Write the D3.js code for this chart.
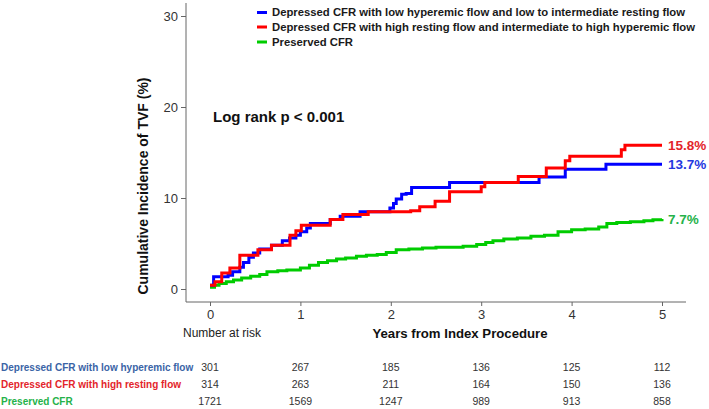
<!DOCTYPE html>
<html><head><meta charset="utf-8">
<script src="https://cdn.jsdelivr.net/npm/d3@7"></script>
<style>body{margin:0;background:#fff}svg{display:block;font-family:"Liberation Sans",Arial,sans-serif}</style>
</head><body><svg id="c" width="709" height="409"></svg>
<script>
const seriesNames = ["Depressed CFR with low hyperemic flow and low to intermediate resting flow",
  "Depressed CFR with high resting flow and intermediate to high hyperemic flow",
  "Preserved CFR"];
const tableNames = ["Depressed CFR with low hyperemic flow","Depressed CFR with high resting flow","Preserved CFR"];
const lineColors = ["#0000ff","#ff0000","#00cc00"];
const labelColors = ["#3a64a6","#e3242b","#25b24a"];
const endColors = ["#2438e0","#e3242b","#25b24a"];
const endLabels = ["13.7%","15.8%","7.7%"];

const blueT = [0,0.04,0.2,0.25,0.33,0.37,0.43,0.48,0.55,0.68,0.8,0.88,0.95,1.0,1.07,1.11,1.33,1.44,1.66,1.99,2.03,2.06,2.12,2.17,2.23,2.65,3.64,3.93,4.38,5.0];
const blueV = [0.4,1.35,1.5,1.9,2.4,2.9,3.5,3.95,4.4,4.8,5.3,5.6,5.9,6.3,6.7,7.2,7.65,8.0,8.5,8.9,9.4,9.9,10.4,10.5,11.15,11.7,12.3,13.15,13.7,13.7];
const redT = [0,0.055,0.13,0.22,0.33,0.53,0.68,0.885,0.95,1.01,1.33,1.47,1.75,2.22,2.32,2.49,2.65,3.0,3.04,3.41,3.72,3.93,3.98,4.55,4.59,5.0];
const redV = [0.4,0.8,1.75,2.3,3.7,4.3,4.8,5.9,6.4,7.0,7.65,8.2,8.5,8.6,9.05,9.65,10.7,11.25,11.7,12.35,13.3,14.1,14.6,15.3,15.8,15.8];
const greenT = [0,0.05,0.1,0.18,0.26,0.35,0.45,0.55,0.63,0.75,0.85,1.0,1.1,1.2,1.3,1.4,1.5,1.62,1.73,1.85,1.95,2.06,2.2,2.35,2.5,2.65,2.8,2.95,3.05,3.13,3.25,3.4,3.55,3.7,3.85,4.0,4.15,4.3,4.39,4.5,4.65,4.8,4.9,5.0];
const greenV = [0.2,0.4,0.6,0.8,1.0,1.2,1.4,1.6,1.9,2.0,2.1,2.3,2.6,2.9,3.1,3.3,3.4,3.6,3.7,3.8,4.0,4.3,4.4,4.5,4.6,4.6,4.7,4.9,5.1,5.3,5.5,5.6,5.8,5.9,6.3,6.5,6.6,6.8,7.2,7.3,7.4,7.5,7.6,7.7];

const xTicks = [0,1,2,3,4,5];
const yTicks = [0,10,20,30];
const riskBlue = [301,267,185,136,125,112];
const riskRed = [314,263,211,164,150,136];
const riskGreen = [1721,1569,1247,989,913,858];

const svg = d3.select("#c");
const x = d3.scaleLinear().domain([0,5]).range([210,662]);
const y = d3.scaleLinear().domain([0,30]).range([289,16]);

// axes
const yAxis = d3.axisLeft(y).tickValues(yTicks).tickFormat(d3.format("d")).tickSize(5).tickPadding(3);
const gy = svg.append("g").attr("transform","translate(186,0)").call(yAxis);
gy.select(".domain").attr("d","M0,3V302");
const xAxis = d3.axisBottom(x).tickValues(xTicks).tickFormat(d3.format("d")).tickSize(4).tickPadding(4);
const gx = svg.append("g").attr("transform","translate(0,302)").call(xAxis);
gx.select(".domain").attr("d","M186,0H686");
svg.selectAll(".domain, .tick line").attr("stroke","#666").attr("stroke-width",1);
svg.selectAll(".tick text").attr("font-size",13).attr("fill","#333").attr("font-family","Liberation Sans, Arial");

// y title
svg.append("text").attr("transform","translate(148,186) rotate(-90)").attr("text-anchor","middle")
  .attr("font-weight","bold").attr("font-size",14).attr("fill","#111").text("Cumulative Incidence of TVF (%)");

// curves
const series = [[blueT,blueV],[redT,redV],[greenT,greenV]];
const line = d3.line().x(d=>x(d[0])).y(d=>y(d[1])).curve(d3.curveStepAfter);
[2,0,1].forEach(i=>{
  const pts = series[i][0].map((t,j)=>[t,series[i][1][j]]);
  svg.append("path").attr("d",line(pts)).attr("fill","none").attr("stroke",lineColors[i]).attr("stroke-width",3);
});

// end labels
series.forEach((s,i)=>{
  const v = s[1][s[1].length-1];
  svg.append("text").attr("x",x(5)+6).attr("y",y(v)).attr("dy","0.35em")
    .attr("font-weight","bold").attr("font-size",13.5).attr("fill",endColors[i]).text(endLabels[i]);
});

// legend
const legY = [12.5,27,42];
seriesNames.forEach((n,i)=>{
  svg.append("rect").attr("x",257).attr("y",legY[i]-1.5).attr("width",10).attr("height",3).attr("fill",lineColors[i]);
  svg.append("text").attr("x",272).attr("y",legY[i]).attr("dy","0.35em").attr("font-weight","bold")
    .attr("font-size",11.3).attr("fill","#1a1a1a").text(n);
});

svg.append("text").attr("x",213).attr("y",117).attr("dy","0.35em").attr("font-weight","bold")
  .attr("font-size",15).attr("fill","#111").text("Log rank p < 0.001");

svg.append("text").attr("x",460).attr("y",333).attr("dy","0.35em").attr("text-anchor","middle")
  .attr("font-weight","bold").attr("font-size",13.2).attr("fill","#111").text("Years from Index Procedure");
svg.append("text").attr("x",183).attr("y",333).attr("dy","0.35em")
  .attr("font-size",12).attr("fill","#222").text("Number at risk");

// risk table
const risks = [riskBlue,riskRed,riskGreen];
const rowY = [367.5,384.5,401.5];
risks.forEach((r,i)=>{
  svg.append("text").attr("x",1).attr("y",rowY[i]).attr("dy","0.35em").attr("font-weight","bold")
    .attr("font-size",10).attr("fill",labelColors[i]).text(tableNames[i]);
  r.forEach((v,j)=>{
    svg.append("text").attr("x",x(xTicks[j])).attr("y",rowY[i]).attr("dy","0.35em").attr("text-anchor","middle")
      .attr("font-size",10.5).attr("fill","#333").text(v);
  });
});
</script></body></html>
